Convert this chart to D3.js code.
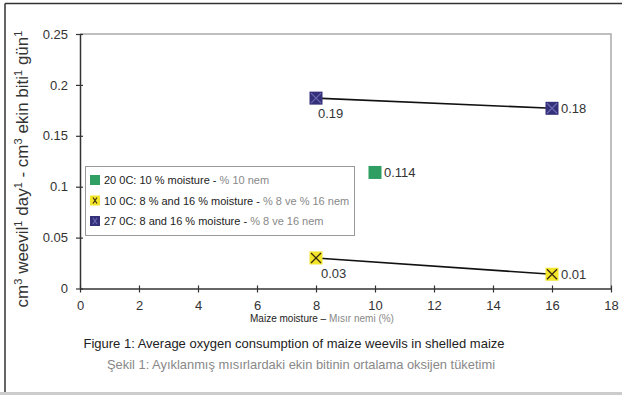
<!DOCTYPE html>
<html>
<head>
<meta charset="utf-8">
<script src="https://cdn.jsdelivr.net/npm/d3@7"></script>
<style>
  body { margin: 0; background: #fff; }
  text { font-family: "Liberation Sans", Arial, sans-serif; }
</style>
</head>
<body>
<div id="chart"></div>
<script>
// data
var moisture = [8, 16];
var cold = [0.03, 0.014];          // 10 0C
var warm = [0.187, 0.177];         // 27 0C
var midX = [10];
var mid = [0.114];                 // 20 0C
var coldLabels = ["0.03", "0.01"];
var warmLabels = ["0.19", "0.18"];
var midLabels = ["0.114"];
var xTicks = [0, 2, 4, 6, 8, 10, 12, 14, 16, 18];
var yTicks = [0, 0.05, 0.1, 0.15, 0.2, 0.25];
var legendEn = ["20 0C: 10 % moisture - ", "10 0C: 8 % and 16 % moisture - ", "27 0C: 8 and 16 % moisture - "];
var legendTr = ["% 10 nem", "% 8 ve % 16 nem", "% 8 ve 16 nem"];

var W = 622, H = 395;
var margin = {top: 34, right: 11, bottom: 106.5, left: 80},
    width = W - margin.left - margin.right,
    height = H - margin.top - margin.bottom;

var root = d3.select("#chart").append("svg")
  .attr("width", W).attr("height", H);

// outer frame
root.append("line").attr("x1", 5).attr("x2", W).attr("y1", 3.5).attr("y2", 3.5)
  .style("stroke", "#333").style("stroke-width", 1.5);
root.append("line").attr("x1", 5).attr("x2", 5).attr("y1", 3.5).attr("y2", 392)
  .style("stroke", "#333").style("stroke-width", 1.5);
root.append("rect").attr("x", 0).attr("y", 392).attr("width", W).attr("height", 3)
  .style("fill", "#ccc");

var svg = root.append("g")
  .attr("transform", "translate(" + margin.left + "," + margin.top + ")");

var x = d3.scaleLinear().domain([0, 18]).range([0, width]);
var y = d3.scaleLinear().domain([0, 0.25]).range([height, 0]);

// plot frame (top/right)
svg.append("path")
  .attr("d", "M0,0H" + width + "V" + height)
  .style("fill", "none").style("stroke", "#aaa").style("stroke-width", 1.5);

// X axis
var xAxis = svg.append("g")
  .attr("transform", "translate(0," + height + ")")
  .call(d3.axisBottom(x).tickValues(xTicks).tickSize(4).tickSizeOuter(0).tickPadding(8));
xAxis.selectAll(".tick line").attr("y1", -3);
// Y axis
var yAxis = svg.append("g")
  .call(d3.axisLeft(y).tickValues(yTicks).tickSize(4).tickSizeOuter(0).tickPadding(8)
    .tickFormat(function(d) { return d3.format("")(+d.toFixed(2)); }));
yAxis.selectAll(".tick line").attr("x1", 3);
svg.selectAll(".domain").style("stroke", "#333").style("stroke-width", 1.5);
svg.selectAll(".tick line").style("stroke", "#333").style("stroke-width", 1.2);
svg.selectAll(".tick text").style("font-size", "13px").style("fill", "#333");

// axis titles
root.append("text")
  .attr("transform", "translate(28,169) rotate(-90)")
  .attr("text-anchor", "middle")
  .style("font-size", "17px").style("fill", "#333")
  .html("cm<tspan dy='-6' font-size='11'>3</tspan><tspan dy='6'> weevil</tspan><tspan dy='-6' font-size='11'>1</tspan><tspan dy='6'> day</tspan><tspan dy='-6' font-size='11'>1</tspan><tspan dy='6'> - cm</tspan><tspan dy='-6' font-size='11'>3</tspan><tspan dy='6'> ekin biti</tspan><tspan dy='-6' font-size='11'>1</tspan><tspan dy='6'> gün</tspan><tspan dy='-6' font-size='11'>1</tspan>");

root.append("text")
  .attr("x", 322).attr("y", 322)
  .attr("text-anchor", "middle")
  .style("font-size", "10px")
  .html("<tspan fill='#222'>Maize moisture – </tspan><tspan fill='#888'>Mısır nemi (%)</tspan>");

root.append("text")
  .attr("x", 294).attr("y", 348)
  .attr("text-anchor", "middle")
  .style("font-size", "13px").style("fill", "#222")
  .text("Figure 1: Average oxygen consumption of maize weevils in shelled maize");
root.append("text")
  .attr("x", 301).attr("y", 369)
  .attr("text-anchor", "middle")
  .style("font-size", "12.9px").style("fill", "#888")
  .text("Şekil 1: Ayıklanmış mısırlardaki ekin bitinin ortalama oksijen tüketimi");

// lines
var line = d3.line()
  .x(function(d, i) { return x(moisture[i]); })
  .y(function(d) { return y(d); });
[warm, cold].forEach(function(s) {
  svg.append("path").datum(s).attr("d", line)
    .style("fill", "none").style("stroke", "#111").style("stroke-width", 1.6);
});

// markers
var ms = 13;
function marker(g, cx, cy, fill, cross) {
  g.append("rect")
    .attr("x", cx - ms / 2).attr("y", cy - ms / 2)
    .attr("width", ms).attr("height", ms)
    .style("fill", fill);
  if (cross) {
    g.append("path")
      .attr("d", "M" + (cx - 5) + "," + (cy - 5) + "L" + (cx + 5) + "," + (cy + 5) +
                 "M" + (cx - 5) + "," + (cy + 5) + "L" + (cx + 5) + "," + (cy - 5))
      .style("stroke", cross).style("stroke-width", 1.3);
  }
}
warm.forEach(function(v, i) { marker(svg, x(moisture[i]), y(v), "#34307a", "#6a68b0"); });
cold.forEach(function(v, i) { marker(svg, x(moisture[i]), y(v), "#f2e52a", "#3a2a10"); });
mid.forEach(function(v, i) { marker(svg, x(midX[i]), y(v), "#2f9e62", null); });

// value labels
var lab = {size: "13px", fill: "#333"};
svg.selectAll(".wl").data(warm).enter().append("text")
  .attr("x", function(d, i) { return i == 0 ? x(moisture[i]) + 2 : x(moisture[i]) + 9; })
  .attr("y", function(d, i) { return i == 0 ? y(d) + 20 : y(d) + 5; })
  .style("font-size", lab.size).style("fill", lab.fill)
  .text(function(d, i) { return warmLabels[i]; });
svg.selectAll(".cl").data(cold).enter().append("text")
  .attr("x", function(d, i) { return i == 0 ? x(moisture[i]) + 5 : x(moisture[i]) + 9; })
  .attr("y", function(d, i) { return i == 0 ? y(d) + 20 : y(d) + 5; })
  .style("font-size", lab.size).style("fill", lab.fill)
  .text(function(d, i) { return coldLabels[i]; });
svg.selectAll(".ml").data(mid).enter().append("text")
  .attr("x", function(d, i) { return x(midX[i]) + 9; })
  .attr("y", function(d) { return y(d) + 5; })
  .style("font-size", lab.size).style("fill", lab.fill)
  .text(function(d, i) { return midLabels[i]; });

// legend
var lg = root.append("g");
lg.append("rect").attr("x", 85.5).attr("y", 166.5).attr("width", 269).attr("height", 69)
  .style("fill", "#fff").style("stroke", "#999").style("stroke-width", 1);
var legFill = ["#2f9e62", "#f2e52a", "#34307a"];
var legCross = [null, "#3a2a10", "#6a68b0"];
legendEn.forEach(function(t, i) {
  var cy = 180 + i * 20.5;
  var g = lg.append("g");
  g.append("rect").attr("x", 90).attr("y", cy - 5).attr("width", 10).attr("height", 10)
    .style("fill", legFill[i]);
  if (legCross[i]) {
    g.append("path")
      .attr("d", "M93," + (cy - 3) + "L97," + (cy + 3) + "M93," + (cy + 3) + "L97," + (cy - 3))
      .style("stroke", legCross[i]).style("stroke-width", 1.2);
  }
  g.append("text").attr("x", 104).attr("y", cy + 4)
    .style("font-size", "11px")
    .html("<tspan fill='#222'>" + t + "</tspan><tspan fill='#888'>" + legendTr[i] + "</tspan>");
});
</script>
</body>
</html>
